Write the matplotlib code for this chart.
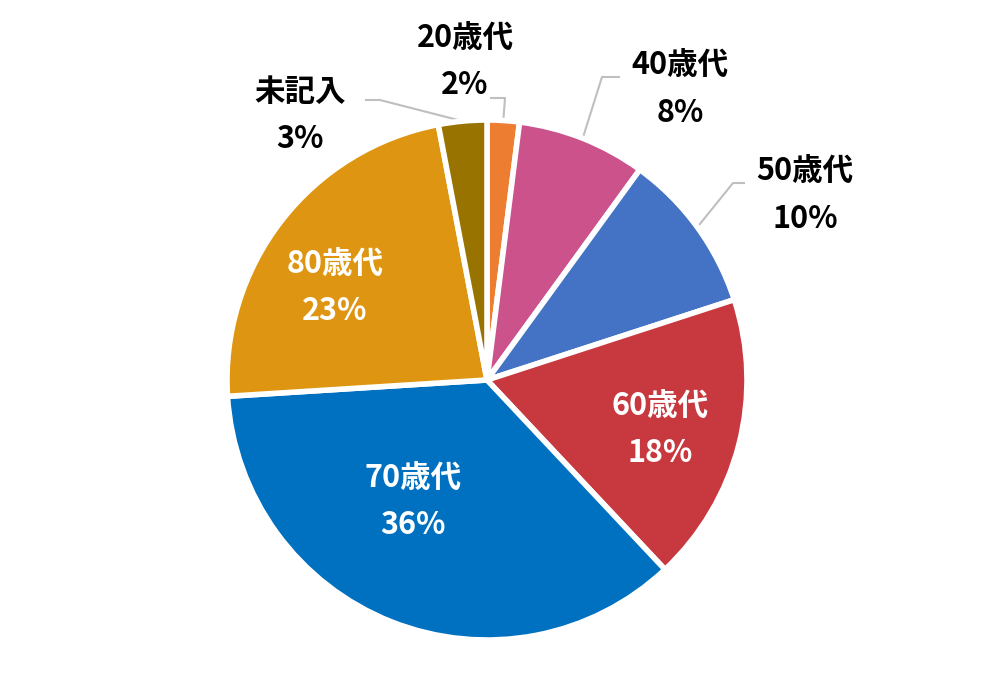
import numpy as np
import matplotlib.pyplot as plt

plt.rcParams['font.family'] = ['Noto Sans CJK JP', 'DejaVu Sans']

labels = ['20歳代', '40歳代', '50歳代', '60歳代', '70歳代', '80歳代', '未記入']
values = [2, 8, 10, 18, 36, 23, 3]
colors = ['#ED7D31', '#CC528C', '#4472C4', '#C8393F', '#0070C0', '#DE9612', '#997300']

# ラベル位置（ピクセル, 上から）
label_pos = [(465, 62), (680, 89), (805, 195), (660, 430), (413, 502), (335, 288), (300, 115)]
elbow = [((505, 98), (490, 98)), ((602, 77), (620, 77)), ((733, 183), (745, 183)),
         None, None, None, ((380, 100), (365, 100))]
inside = [False, False, False, True, True, True, False]

W, H = 1000, 680
cx, cy, R = 487, 380, 260

fig = plt.figure(figsize=(10, 6.8), dpi=100)
ax = fig.add_axes([0, 0, 1, 1])
wedges, _ = ax.pie(values, colors=colors, startangle=90, counterclock=False,
                   center=(cx, H - cy), radius=R,
                   wedgeprops=dict(edgecolor='white', linewidth=4))
ax.set_xlim(0, W)
ax.set_ylim(0, H)
ax.axis('off')

for i, w in enumerate(wedges):
    lx, ly = label_pos[i]
    txt = f'{labels[i]}\n{values[i]}%'
    ax.text(lx, H - ly, txt, ha='center', va='center', fontsize=22, fontweight='bold',
            color='white' if inside[i] else 'black', linespacing=1.6)
    if elbow[i] is not None:
        mid = np.deg2rad((w.theta1 + w.theta2) / 2)
        sx = cx + R * np.cos(mid)
        sy = (H - cy) + R * np.sin(mid)
        (ex, ey), (tx, ty) = elbow[i]
        ax.plot([sx, ex, tx], [sy, H - ey, H - ty], color='#BFBFBF', lw=1.5,
                solid_capstyle='butt', zorder=0)

fig.savefig('out.png', dpi=100)
